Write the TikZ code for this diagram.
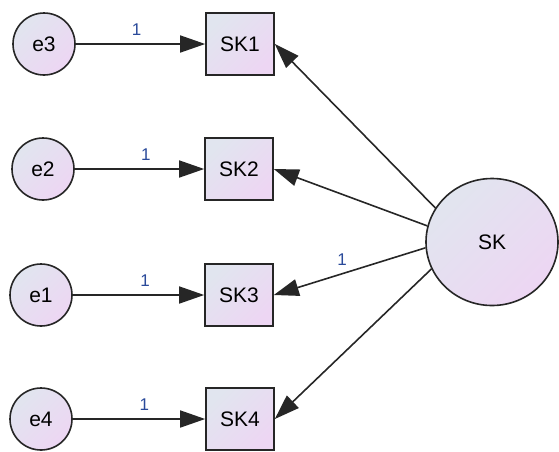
\documentclass[tikz,border=0pt]{standalone}
\usepackage{fontspec}
\setmainfont{Liberation Sans}
\usetikzlibrary{shapes.geometric,arrows.meta}
\definecolor{fillA}{HTML}{E1E5EF}
\definecolor{fillB}{HTML}{EDD6F3}
\definecolor{labelblue}{HTML}{2A4A9A}
\begin{document}
\begin{tikzpicture}[x=1pt,y=-1pt,line width=1.6pt]
  \tikzstyle{every node}=[font=\fontsize{21}{24}\selectfont]
  \tikzstyle{err}=[circle,draw=black!85,minimum size=62pt,inner sep=0pt,top color=fillA,bottom color=fillB,shading angle=45]
  \tikzstyle{obs}=[rectangle,draw=black!85,minimum width=68pt,minimum height=62pt,inner sep=0pt,top color=fillA,bottom color=fillB,shading angle=45]
  \tikzstyle{lat}=[ellipse,draw=black!85,minimum width=132pt,minimum height=127pt,inner sep=0pt,top color=fillA,bottom color=fillB,shading angle=45]
  \tikzstyle{reg}=[draw=black!85,-{Triangle[length=25pt,width=17pt]}]
  \tikzstyle{one}=[font=\fontsize{17}{20}\selectfont,text=labelblue,above=4pt]
  \useasboundingbox (0,0) rectangle (559,451);
  % error terms
  \node[err] (e3) at (44,44) {e3};
  \node[err] (e2) at (43,169) {e2};
  \node[err] (e1) at (41,295) {e1};
  \node[err] (e4) at (41,419) {e4};
  % indicators
  \node[obs] (SK1) at (240,44) {SK1};
  \node[obs] (SK2) at (239,169) {SK2};
  \node[obs] (SK3) at (239,295) {SK3};
  \node[obs] (SK4) at (240,419) {SK4};
  % latent
  \node[lat] (SK) at (492,242) {SK};
  \draw[reg] (e3) -- node[one,pos=0.47] {1} (SK1);
  \draw[reg] (e2) -- node[one,pos=0.55] {1} (SK2);
  \draw[reg] (e1) -- node[one,pos=0.55] {1} (SK3);
  \draw[reg] (e4) -- node[one,pos=0.54] {1} (SK4);
  \draw[reg] (SK.149) -- (SK1.east);
  \draw[reg] (SK.166) -- (SK2.east);
  \draw[reg] (SK.185) -- node[one,pos=0.55] {1} (SK3.east);
  \draw[reg] (SK.204) -- (SK4.east);
\end{tikzpicture}
\end{document}
